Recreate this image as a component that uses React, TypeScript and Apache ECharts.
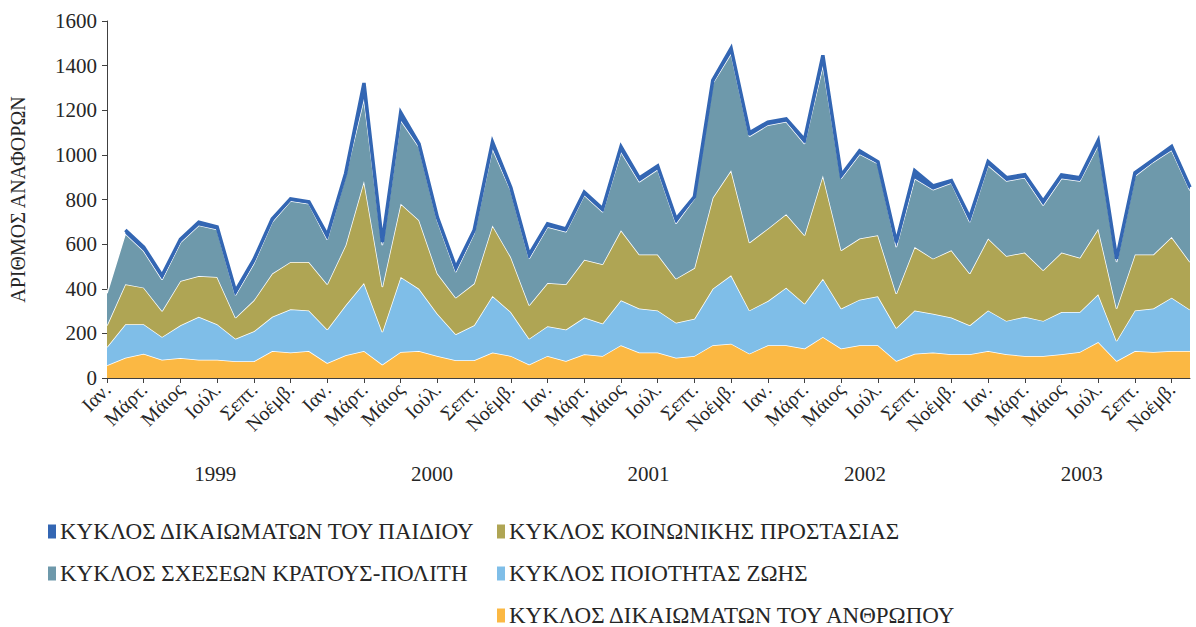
import React, { useEffect, useRef } from "react";
import * as echarts from "echarts";

const monthNames = ["Ιαν.", "Φεβ.", "Μάρτ.", "Απρ.", "Μάιος", "Ιούν.", "Ιούλ.", "Αύγ.", "Σεπτ.", "Οκτ.", "Νοέμβ.", "Δεκ."];
const years = ["1999", "2000", "2001", "2002", "2003"];
const categories: string[] = [];
years.forEach((y) => monthNames.forEach((m) => categories.push(m + " " + y)));

const yTicks = { min: 0, max: 1600, interval: 200 };

const seriesNames = [
  "ΚΥΚΛΟΣ ΔΙΚΑΙΩΜΑΤΩΝ ΤΟΥ ΑΝΘΡΩΠΟΥ",
  "ΚΥΚΛΟΣ ΠΟΙΟΤΗΤΑΣ ΖΩΗΣ",
  "ΚΥΚΛΟΣ ΚΟΙΝΩΝΙΚΗΣ ΠΡΟΣΤΑΣΙΑΣ",
  "ΚΥΚΛΟΣ ΣΧΕΣΕΩΝ ΚΡΑΤΟΥΣ-ΠΟΛΙΤΗ",
  "ΚΥΚΛΟΣ ΔΙΚΑΙΩΜΑΤΩΝ ΤΟΥ ΠΑΙΔΙΟΥ",
];

const anthropou = [57, 91, 109, 82, 90, 82, 82, 75, 75, 121, 114, 121, 67, 102, 121, 60, 117, 121, 99, 79, 79, 114, 99, 60, 99, 76, 106, 99, 147, 114, 114, 91, 99, 147, 154, 109, 147, 147, 132, 184, 132, 147, 147, 76, 109, 114, 106, 106, 121, 106, 99, 99, 106, 117, 161, 76, 121, 117, 121, 121];
const zois = [82, 150, 132, 102, 146, 192, 159, 101, 134, 153, 194, 182, 150, 224, 305, 146, 336, 279, 189, 117, 157, 254, 197, 116, 133, 141, 165, 145, 201, 197, 189, 157, 166, 253, 306, 194, 198, 258, 201, 261, 179, 204, 219, 148, 194, 174, 165, 130, 182, 150, 175, 157, 190, 179, 214, 90, 182, 194, 239, 185];
const prostasias = [97, 179, 164, 116, 199, 183, 212, 94, 139, 194, 212, 217, 203, 269, 457, 202, 328, 307, 180, 164, 187, 316, 246, 150, 194, 203, 259, 266, 314, 242, 250, 197, 228, 408, 471, 304, 324, 329, 307, 463, 261, 274, 274, 154, 284, 247, 301, 232, 322, 291, 288, 227, 266, 243, 294, 145, 250, 242, 272, 214];
const kratous = [144, 227, 164, 141, 172, 227, 212, 101, 165, 231, 273, 261, 200, 313, 369, 187, 374, 328, 237, 115, 225, 344, 298, 209, 251, 235, 289, 234, 351, 326, 381, 247, 311, 512, 523, 476, 464, 414, 410, 493, 323, 378, 321, 209, 307, 309, 302, 231, 328, 336, 335, 291, 332, 344, 374, 209, 352, 415, 389, 321];
const paidiou = [null, 16, 18, 18, 15, 14, 12, 18, 17, 14, 10, 9, 20, 9, 70, 14, 35, 14, 15, 20, 14, 30, 14, 18, 14, 13, 14, 14, 24, 17, 16, 20, 8, 14, 24, 16, 14, 13, 18, 45, 14, 15, 8, 22, 35, 17, 11, 20, 17, 15, 14, 18, 16, 15, 22, 15, 15, 10, 17, 14];

const colors = ["#FBB843", "#7FBEE8", "#AFA554", "#6E99AB", "#3366B3"];
const FONT = "Liberation Serif";
const TEXT = "#262626";

// legend layout: [series index, column, row]
const legendSlots: [number, number, number][] = [
  [4, 0, 0],
  [2, 1, 0],
  [3, 0, 1],
  [1, 1, 1],
  [0, 1, 2],
];

export default function App() {
  const ref = useRef<HTMLDivElement>(null);
  useEffect(() => {
    if (!ref.current) return;
    const chart = echarts.init(ref.current, undefined, { renderer: "svg" });
    const values = [anthropou, zois, prostasias, kratous, paidiou];
    const series = values.map((d, i) => {
      const top = i === 4;
      return {
        name: seriesNames[i],
        type: "line",
        stack: "total",
        data: d,
        xAxisIndex: 0,
        showSymbol: false,
        symbol: "none",
        connectNulls: false,
        lineStyle: top
          ? { color: colors[i], width: 3.5, join: "miter", miterLimit: 10 }
          : { color: "#ffffff", width: 1.5 },
        itemStyle: { color: colors[i] },
        areaStyle: { color: colors[i], opacity: 1 },
        z: 2 + i,
      };
    });
    const legends = legendSlots.map(([si, col, row]) => ({
      left: col === 0 ? 48 : 497,
      top: 520 + row * 42,
      orient: "horizontal",
      icon: "rect",
      itemWidth: 8,
      itemHeight: 14,
      itemGap: 5,
      padding: 0,
      data: [seriesNames[si]],
      textStyle: { fontFamily: FONT, fontSize: 23, color: TEXT, lineHeight: 22, padding: [0, 0, 0, -1] },
    }));
    chart.setOption({
      animation: false,
      textStyle: { fontFamily: FONT },
      grid: { left: 98, right: 6, top: 21, bottom: 249, containLabel: false },
      legend: legends,
      xAxis: [
        {
          type: "category",
          data: categories,
          boundaryGap: false,
          axisLine: { lineStyle: { color: "#404040", width: 1 } },
          axisTick: { show: true, interval: 1, length: 5, lineStyle: { color: "#404040" } },
          axisLabel: {
            interval: 1,
            rotate: 45,
            margin: 8,
            fontSize: 20,
            fontFamily: FONT,
            color: TEXT,
            formatter: (v: string) => v.split(" ")[0],
          },
        },
        {
          type: "category",
          data: years,
          position: "bottom",
          boundaryGap: true,
          axisLine: { show: false },
          axisTick: { show: false },
          axisLabel: { margin: 85, fontSize: 21, fontFamily: FONT, color: TEXT },
        },
      ],
      yAxis: {
        type: "value",
        min: yTicks.min,
        max: yTicks.max,
        interval: yTicks.interval,
        name: "ΑΡΙΘΜΟΣ ΑΝΑΦΟΡΩΝ",
        nameLocation: "middle",
        nameRotate: 90,
        nameGap: 79,
        nameTextStyle: { fontFamily: FONT, fontSize: 20, color: TEXT },
        splitLine: { show: false },
        axisLine: { show: true, lineStyle: { color: "#404040", width: 1 } },
        axisTick: { show: true, inside: false, length: 5, lineStyle: { color: "#404040" } },
        axisLabel: {
          margin: 10,
          fontSize: 21,
          fontFamily: FONT,
          color: TEXT,
          formatter: (v: number) => String(v),
        },
      },
      series,
    });
    return () => chart.dispose();
  }, []);
  return (
    <div
      ref={ref}
      style={{ position: "fixed", left: 0, top: 0, width: 1196, height: 627, background: "#fff" }}
    />
  );
}
